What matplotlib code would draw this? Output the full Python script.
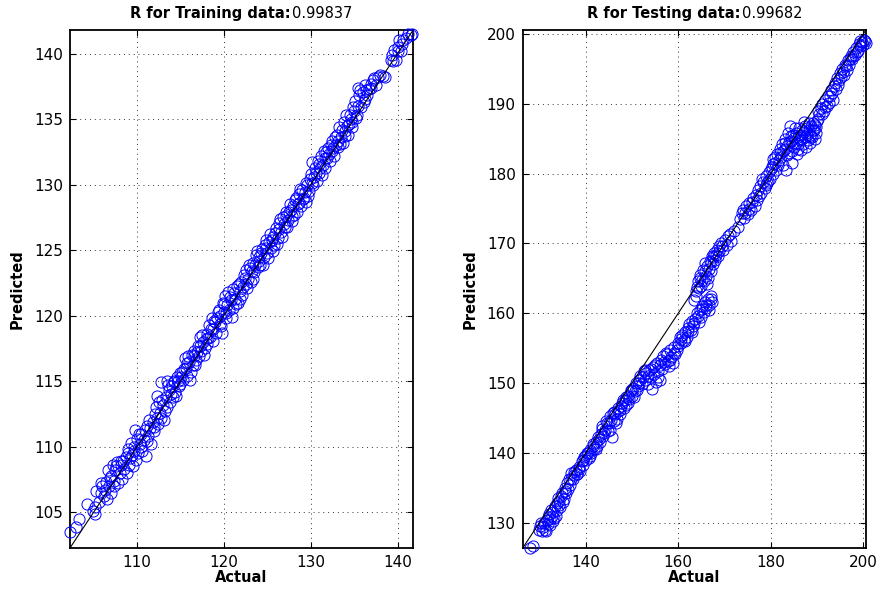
import matplotlib
matplotlib.use("Agg")
import matplotlib.pyplot as plt
from matplotlib.offsetbox import AnchoredOffsetbox, HPacker, TextArea
import numpy as np

plt.rcParams['font.family'] = ['DejaVu Sans']

# ---- training set: (actual, predicted) ----
train_pairs = [
    (102.3, 103.5), (103.0, 103.9), (103.3, 104.5), (104.2, 105.6), (104.9, 105.1),
    (105.1, 104.9), (105.2, 105.4), (105.3, 106.6), (105.6, 105.8),
    (105.8, 106.5), (106.0, 107.0), (106.2, 106.2), (106.4, 107.3), (106.5, 106.0),
    (106.6, 108.2), (106.8, 107.0), (107.0, 107.8), (107.0, 106.5), (107.2, 108.6),
    (107.4, 107.4), (107.5, 108.2), (107.7, 108.8), (107.8, 107.2), (108.0, 108.0),
    (108.2, 108.6), (108.3, 107.5), (108.5, 108.3), (108.7, 109.2), (108.8, 108.0),
    (109.0, 109.8), (109.1, 108.6), (109.3, 110.3), (109.4, 109.4), (109.5, 108.5),
    (109.6, 110.0), (109.8, 111.3), (109.9, 109.0),
    (110.0, 110.6), (110.1, 109.5), (110.3, 110.2), (110.5, 111.0), (110.6, 109.7),
    (110.8, 110.5), (111.0, 109.3), (111.1, 111.6), (111.3, 110.8), (111.5, 111.4),
    (111.6, 110.2), (111.8, 111.9), (112.0, 111.2), (112.1, 112.5), (112.2, 113.0),
    (112.3, 113.9), (112.4, 111.7), (112.6, 112.6), (112.7, 114.9), (112.8, 112.2),
    (113.0, 113.2), (113.1, 112.0), (113.3, 113.8), (113.4, 115.0), (113.5, 113.0),
    (113.7, 114.3), (113.8, 113.4), (114.0, 114.6), (114.1, 113.8), (114.3, 115.0),
    (114.4, 114.2), (114.6, 115.3), (114.8, 114.6), (114.9, 115.6),
    (115.0, 114.8), (115.2, 115.7), (115.3, 115.1), (115.5, 116.8), (115.6, 116.0),
    (115.8, 115.4), (116.0, 116.5), (116.1, 115.1), (116.3, 117.0), (116.4, 116.2),
    (116.6, 117.3), (116.8, 116.6), (117.0, 117.7), (117.1, 116.9), (117.2, 118.4),
    (117.4, 117.3), (117.6, 118.0), (117.8, 117.5), (118.0, 118.6), (118.1, 117.8),
    (118.3, 119.3), (118.4, 118.4), (118.6, 119.8), (118.8, 119.0), (119.0, 119.5),
    (119.1, 118.7), (119.3, 120.3), (119.5, 119.4), (119.6, 120.0), (119.8, 118.7),
    (119.9, 121.0),
    (120.0, 120.3), (120.1, 121.5), (120.2, 119.8), (120.4, 120.8), (120.5, 121.8),
    (120.6, 120.4), (120.8, 121.2), (121.0, 120.6), (121.1, 122.0), (121.3, 121.3),
    (121.5, 122.3), (121.6, 121.0), (121.8, 121.9), (122.0, 122.6), (122.1, 121.6),
    (122.3, 123.1), (122.5, 122.4), (122.6, 123.5), (122.8, 122.8), (123.0, 123.6),
    (123.1, 122.6), (123.3, 124.0), (123.5, 123.3), (123.7, 124.6), (123.9, 123.7),
    (124.0, 124.5), (124.2, 123.9), (124.4, 125.1), (124.6, 124.5), (124.8, 125.8),
    (125.0, 124.8), (125.2, 125.6), (125.4, 125.2), (125.6, 126.0), (125.8, 125.4),
    (126.0, 126.7), (126.2, 125.9), (126.4, 127.1), (126.6, 126.4), (126.8, 127.5),
    (127.0, 126.8), (127.2, 127.9), (127.4, 127.3), (127.6, 128.5), (127.8, 127.6),
    (128.0, 128.4), (128.1, 127.7), (128.3, 129.0), (128.5, 128.5), (128.7, 129.3),
    (128.9, 128.4), (129.0, 129.6), (129.2, 129.0), (129.4, 128.7), (129.6, 130.0),
    (129.8, 129.5),
    (130.0, 130.8), (130.1, 130.1), (130.2, 131.7), (130.4, 130.6), (130.5, 131.3),
    (130.7, 130.3), (130.9, 131.6), (131.0, 130.9), (131.2, 132.2), (131.4, 131.5),
    (131.5, 132.6), (131.7, 131.3), (131.9, 132.0), (132.0, 132.8), (132.2, 131.8),
    (132.4, 132.6), (132.5, 133.3), (132.7, 132.2), (132.9, 133.0), (133.0, 133.8),
    (133.2, 132.9), (133.3, 134.4), (133.5, 133.6), (133.7, 133.2), (133.8, 134.8),
    (134.0, 134.1), (134.1, 135.3), (134.3, 133.8), (134.4, 134.6), (134.6, 135.0),
    (134.8, 134.4),
    (135.0, 135.6), (135.1, 136.4), (135.3, 135.3), (135.5, 137.4), (135.6, 136.8),
    (135.8, 135.9), (136.0, 137.1), (136.2, 136.5), (136.3, 137.6), (136.5, 136.8),
    (136.7, 137.3), (137.0, 137.7), (137.2, 138.0), (137.5, 137.6), (137.8, 138.2),
    (138.0, 138.4), (138.3, 138.3), (139.2, 139.5), (139.4, 139.9), (139.6, 140.3),
    (139.8, 139.5), (140.0, 140.5), (140.2, 141.0), (140.4, 140.2), (140.6, 141.0),
    (141.2, 141.5), (141.5, 141.4), (141.7, 141.5),
    # second pass through the band
    (105.9, 107.2), (106.3, 106.7), (106.9, 107.6), (107.3, 107.0), (107.6, 108.5),
    (108.1, 108.9), (108.4, 108.9), (108.9, 109.5), (109.2, 109.1), (109.7, 109.7),
    (110.2, 111.0), (110.4, 110.0), (110.9, 111.3), (111.2, 110.4), (111.4, 112.0),
    (111.9, 111.5), (112.3, 112.2), (112.5, 113.4), (112.9, 113.6), (113.2, 112.7),
    (113.6, 114.7), (113.9, 114.0), (114.2, 114.9), (114.5, 113.9), (114.7, 115.0),
    (115.1, 115.3), (115.4, 115.9), (115.7, 116.4), (115.9, 116.9), (116.2, 115.7),
    (116.5, 116.9), (116.7, 116.2), (116.9, 117.2), (117.3, 117.7), (117.5, 118.5),
    (117.7, 117.0), (117.9, 118.2), (118.2, 118.3), (118.5, 119.0), (118.7, 118.1),
    (118.9, 119.6), (119.2, 119.8), (119.4, 120.4), (119.7, 119.2), (120.0, 120.9),
    (120.3, 120.2), (120.7, 121.4), (120.9, 119.9), (121.2, 121.7), (121.4, 120.9),
    (121.7, 122.4), (121.9, 121.3), (122.2, 122.2), (122.4, 122.9), (122.7, 122.1),
    (122.9, 123.9), (123.2, 123.4), (123.4, 122.8), (123.6, 123.9), (123.8, 124.9),
    (124.1, 124.2), (124.3, 124.8), (124.5, 123.9), (124.7, 125.4), (124.9, 125.2),
    (125.1, 124.4), (125.3, 126.2), (125.5, 125.8), (125.7, 124.9), (125.9, 126.3),
    (126.1, 125.5), (126.3, 126.6), (126.5, 127.4), (126.7, 126.0), (126.9, 127.0),
    (127.1, 127.6), (127.3, 126.8), (127.5, 127.9), (127.7, 128.1), (127.9, 127.2),
    (128.2, 128.8), (128.4, 127.9), (128.6, 128.6), (128.8, 129.7), (129.1, 128.9),
    (129.3, 129.4), (129.5, 130.1), (129.7, 129.1), (129.9, 130.4), (130.3, 130.0),
    (130.6, 130.9), (130.8, 131.8), (131.1, 131.3), (131.3, 130.7), (131.6, 132.0),
    (131.8, 132.5), (132.1, 132.3), (132.3, 133.0), (132.6, 132.8), (132.8, 133.6),
    (133.1, 133.3), (133.4, 133.1), (133.6, 134.2), (133.9, 133.7), (134.2, 134.5),
    (134.5, 135.3), (134.7, 134.8), (134.9, 135.9), (135.2, 135.1), (135.4, 136.0),
    (135.7, 137.2), (136.1, 136.3), (136.4, 137.2), (136.9, 137.4), (137.3, 138.1),
    (138.6, 138.2), (139.5, 139.4), (140.1, 140.2), (140.5, 140.7), (141.0, 141.2),
]

# ---- testing set: (actual, predicted) ----
test_pairs = [
    (128.0, 126.4), (128.5, 126.6), (129.8, 128.9), (130.3, 129.9), (130.8, 129.3),
    (131.2, 129.0), (131.5, 130.3), (131.8, 129.8), (132.0, 131.2), (132.3, 130.5),
    (132.5, 131.8), (132.8, 130.2), (133.0, 131.5), (133.3, 132.4), (133.5, 131.0),
    (133.8, 132.8), (134.0, 133.5), (134.3, 132.5), (134.6, 133.8), (134.9, 134.2),
    (135.2, 133.4),
    (135.5, 135.0), (135.8, 134.2), (136.0, 135.6), (136.3, 136.3), (136.6, 135.4),
    (136.9, 137.1), (137.2, 136.2), (137.5, 136.8), (137.8, 137.5), (138.2, 136.9),
    (138.5, 138.0), (138.8, 137.4), (139.1, 138.8), (139.4, 138.3), (139.7, 139.4),
    (140.0, 138.9), (140.3, 139.9), (140.6, 139.3), (140.9, 140.4), (141.2, 140.0),
    (141.5, 140.9), (141.8, 140.5), (142.1, 141.5), (142.4, 140.9), (142.7, 142.3),
    (143.0, 141.6), (143.3, 142.7), (143.6, 143.9), (143.8, 142.4), (144.1, 143.3),
    (144.4, 144.5), (144.7, 143.1), (145.0, 144.2), (145.3, 145.2), (145.6, 142.3),
    (145.8, 145.7), (146.1, 144.6), (146.4, 145.5), (146.7, 144.8), (147.0, 146.0),
    (147.3, 145.6), (147.6, 146.7), (147.9, 147.1),
    (148.2, 146.4), (148.5, 147.6), (148.8, 146.9), (149.1, 148.2), (149.4, 147.7),
    (149.7, 148.8), (150.0, 148.2), (150.3, 149.3), (150.6, 148.8), (150.9, 150.0),
    (151.2, 149.5), (151.5, 150.4), (151.8, 151.0), (152.1, 149.8), (152.5, 151.7),
    (152.8, 150.5), (153.1, 151.4), (153.4, 149.9), (153.7, 151.8), (154.0, 150.9),
    (154.3, 149.2), (154.5, 152.3), (154.8, 151.3), (155.1, 150.2), (155.4, 152.8),
    (155.7, 151.7), (156.0, 150.5), (156.2, 153.3),
    (156.5, 152.0), (156.8, 153.8), (157.1, 152.7), (157.4, 154.3), (157.7, 153.1),
    (158.0, 152.4), (158.2, 154.8), (158.5, 153.7), (158.8, 152.9), (159.1, 155.2),
    (159.4, 154.1), (159.7, 154.8), (160.0, 155.8), (160.3, 156.6), (160.6, 155.7),
    (160.9, 156.9), (161.2, 156.2), (161.5, 157.3), (161.8, 156.6), (162.1, 157.4),
    (162.4, 158.5), (162.7, 157.6), (163.0, 158.9), (163.2, 158.1), (163.4, 161.9),
    (163.6, 159.2), (163.9, 162.4), (164.1, 160.0), (164.4, 158.7), (164.7, 160.4),
    (165.0, 159.4), (165.2, 161.0), (165.5, 160.2), (165.8, 161.6), (166.1, 160.8),
    (166.4, 162.0), (166.7, 161.2), (167.0, 162.4), (167.2, 161.6),
    (163.8, 163.2), (164.2, 164.6), (164.5, 163.6), (164.8, 165.0), (165.0, 163.9),
    (165.3, 166.2), (165.5, 164.6), (165.8, 167.2), (166.0, 165.3), (166.3, 166.7),
    (166.5, 165.0), (166.8, 167.5), (167.0, 166.0), (167.2, 168.2), (167.5, 167.0),
    (167.8, 168.6), (168.0, 167.6), (168.3, 169.0), (168.6, 168.2), (168.9, 169.6),
    (169.3, 170.1), (169.7, 169.0), (170.2, 170.5), (170.8, 171.0), (171.5, 170.4),
    (172.0, 171.8),
    (173.0, 172.3), (173.4, 173.5), (174.0, 174.8), (174.3, 173.6), (174.7, 175.3),
    (175.0, 174.2), (175.4, 175.8), (175.8, 174.8), (176.2, 176.5), (176.6, 175.3),
    (177.0, 176.3), (177.3, 177.6), (177.7, 178.3), (178.0, 177.2), (178.3, 178.8),
    (178.7, 178.0), (179.0, 179.6), (179.3, 178.7), (179.6, 180.3), (179.9, 179.3),
    (180.2, 181.0), (180.4, 180.0), (180.6, 182.1), (180.9, 181.5), (181.2, 180.6),
    (181.4, 182.8), (181.7, 181.9), (182.0, 183.5), (182.2, 182.4), (182.5, 184.2),
    (182.7, 181.2), (183.0, 183.6), (183.2, 185.0), (183.4, 180.6), (183.6, 184.0),
    (183.8, 185.8), (184.0, 182.9), (184.2, 186.8), (184.4, 184.7), (184.6, 181.6),
    (184.8, 185.6), (185.0, 183.8), (185.2, 186.5), (185.4, 184.4), (185.6, 182.8),
    (185.8, 185.3), (186.0, 183.6), (186.2, 186.6), (186.4, 184.8), (186.6, 183.4),
    (186.8, 186.3), (187.0, 184.3), (187.2, 187.4), (187.4, 185.2), (187.6, 183.8),
    (187.8, 186.6), (188.0, 184.9), (188.2, 187.2), (188.4, 185.6), (188.6, 184.4),
    (188.8, 186.8), (189.0, 185.2), (189.2, 187.3), (189.4, 186.2), (189.6, 185.0),
    (189.8, 186.7), (190.0, 187.5),
    (190.5, 188.5), (190.8, 189.4), (191.2, 190.0), (191.5, 189.0), (191.8, 190.6),
    (192.1, 189.7), (192.4, 191.2), (192.8, 191.1), (193.1, 192.0), (193.4, 190.6),
    (193.7, 192.6), (194.0, 193.0), (194.3, 193.7), (194.6, 192.7), (194.9, 194.5),
    (195.2, 193.8), (195.5, 195.0), (195.8, 194.2), (196.1, 195.6), (196.4, 194.8),
    (196.7, 196.3), (197.0, 195.6), (197.3, 196.9), (197.6, 196.4), (197.9, 197.4),
    (198.2, 197.0), (198.5, 198.0), (198.8, 197.6), (199.1, 198.6), (199.4, 198.3),
    (199.7, 198.9), (200.1, 199.2), (200.4, 199.0), (200.6, 198.8),
    # second pass through the band
    (130.1, 129.5), (130.6, 128.8), (131.0, 130.0), (131.3, 128.8), (131.9, 130.8),
    (132.2, 129.7), (132.6, 130.9), (133.2, 130.7), (133.7, 131.8), (134.2, 133.1),
    (134.5, 132.2), (135.0, 133.0), (135.4, 134.5), (136.2, 134.8), (136.8, 136.3),
    (137.4, 137.3), (138.0, 137.0), (138.6, 137.7), (139.3, 139.0), (139.9, 139.5),
    (140.5, 140.0), (141.0, 139.6), (141.6, 141.2), (142.2, 140.6), (142.9, 142.0),
    (143.4, 143.4), (144.0, 142.8), (144.6, 144.2), (145.2, 143.3), (145.5, 144.7),
    (146.0, 145.9), (146.5, 144.3), (146.9, 146.4), (147.5, 146.1), (148.0, 147.6),
    (148.7, 148.0), (149.2, 147.1), (149.8, 149.0), (150.4, 148.0), (151.0, 149.0),
    (151.6, 150.0), (152.3, 150.9), (152.9, 151.9), (153.5, 151.0), (154.2, 152.0),
    (154.9, 152.6), (155.6, 150.9), (156.1, 152.6), (156.9, 153.0), (157.6, 154.1),
    (158.3, 153.3), (159.0, 154.3), (159.9, 155.3), (160.7, 156.3), (161.4, 156.0),
    (162.2, 157.9), (162.9, 157.3), (163.5, 158.6), (164.3, 159.6), (165.1, 160.6),
    (165.9, 161.2), (166.6, 160.5), (167.1, 162.0),
    (164.0, 163.8), (164.6, 165.5), (165.1, 164.7), (165.7, 166.1), (166.2, 164.2),
    (166.6, 166.3), (167.1, 167.3), (167.6, 168.0), (168.2, 168.4), (168.8, 168.9),
    (169.5, 169.6), (170.5, 169.8), (171.2, 171.3),
    (173.7, 174.4), (174.5, 174.4), (175.2, 175.0), (176.0, 175.9), (176.8, 177.0),
    (177.5, 176.8), (178.2, 179.3), (178.9, 178.4), (179.5, 179.0), (180.0, 180.7),
    (180.5, 181.4), (181.0, 182.4), (181.5, 181.3), (182.1, 182.9), (182.6, 183.3),
    (183.1, 184.4), (183.5, 182.7), (183.9, 184.5), (184.3, 185.4), (184.7, 183.2),
    (185.1, 185.1), (185.5, 185.9), (185.9, 184.3), (186.3, 185.6), (186.7, 185.0),
    (187.1, 186.0), (187.5, 186.9), (187.9, 185.5), (188.3, 186.2), (188.7, 185.4),
    (189.1, 186.3), (189.5, 187.0), (189.9, 185.8), (190.3, 187.8), (190.2, 189.0),
    (191.0, 188.6), (191.7, 189.6), (192.6, 190.2), (193.3, 191.6), (194.1, 192.2),
    (194.8, 193.4), (195.6, 194.6), (196.3, 195.4), (197.1, 196.5), (197.8, 196.8),
    (198.6, 197.5), (199.3, 199.0), (199.9, 198.5),
]

train_actual = np.array([p[0] for p in train_pairs])
train_pred = np.array([p[1] for p in train_pairs])
test_actual = np.array([p[0] for p in test_pairs])
test_pred = np.array([p[1] for p in test_pairs])

train_r = "0.99837"
test_r = "0.99682"

train_lim = (102.27, 141.8)
test_lim = (126.35, 200.6)
train_ticks_x = [110, 120, 130, 140]
train_ticks_y = [105, 110, 115, 120, 125, 130, 135, 140]
test_ticks_x = [140, 160, 180, 200]
test_ticks_y = [130, 140, 150, 160, 170, 180, 190, 200]


def r_title(ax, label, value):
    # bold label followed by the plain R value, centred over the axes
    parts = HPacker(children=[
        TextArea(label, textprops=dict(fontsize=10.5, fontweight='bold')),
        TextArea(value, textprops=dict(fontsize=10.5)),
    ], align='baseline', pad=0, sep=1)
    box = AnchoredOffsetbox(loc='lower center', child=parts, pad=0, frameon=False,
                            bbox_to_anchor=(0.5, 1.013), bbox_transform=ax.transAxes,
                            borderpad=0.15)
    ax.add_artist(box)


def regression_panel(ax, actual, pred, lim, xt, yt, label, value):
    ax.plot(actual, pred, 'o', mfc='none', mec='#0000ff', ms=8, mew=0.7,
            clip_on=False, zorder=3)
    ax.plot(lim, lim, color='black', lw=0.8, zorder=4)
    ax.set_xlim(lim)
    ax.set_ylim(lim)
    ax.set_xticks(xt)
    ax.set_yticks(yt)
    ax.grid(True, color='#333333', linestyle=(0, (1, 4)), lw=0.7)
    ax.tick_params(direction='in', length=4, width=0.8, top=True, right=True,
                   labelsize=11, pad=5)
    for s in ax.spines.values():
        s.set_linewidth(1.3)
    ax.set_xlabel('Actual', fontsize=10.5, fontweight='bold', labelpad=0)
    ax.set_ylabel('Predicted', fontsize=10.5, fontweight='bold')
    ax.yaxis.set_label_coords(-0.132, 0.5)
    r_title(ax, label, value)


fig = plt.figure(figsize=(8.8, 5.9), dpi=100)
ax1 = fig.add_axes([0.0795, 0.0712, 0.390, 0.878])
ax2 = fig.add_axes([0.594, 0.0712, 0.390, 0.878])

regression_panel(ax1, train_actual, train_pred, train_lim,
                 train_ticks_x, train_ticks_y, 'R for Training data:', train_r)
regression_panel(ax2, test_actual, test_pred, test_lim,
                 test_ticks_x, test_ticks_y, 'R for Testing data:', test_r)

fig.savefig('out.png', dpi=100)
